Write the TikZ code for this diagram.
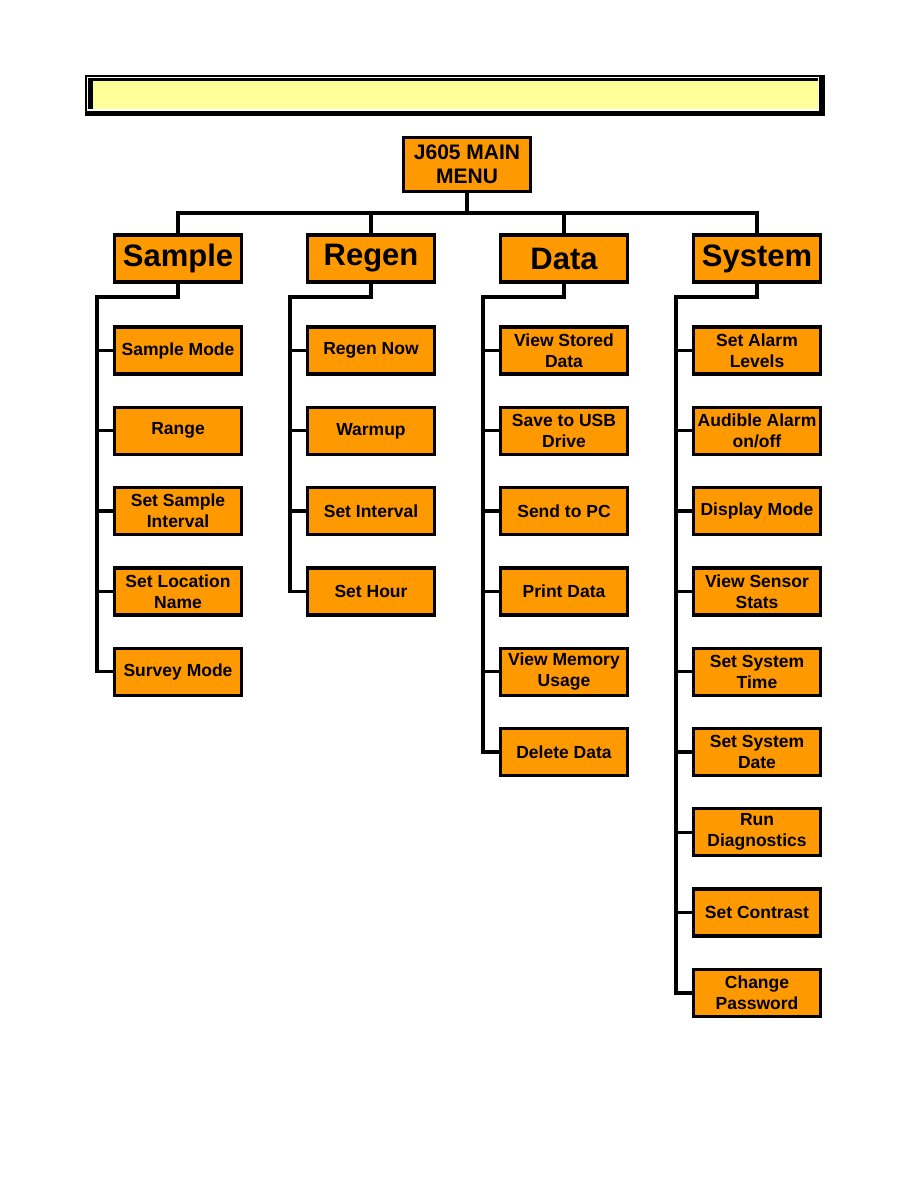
\documentclass[tikz,border=0pt]{standalone}
\usepackage{fontspec}
\setmainfont{Liberation Sans}
\usepackage{tikz}
\usetikzlibrary{positioning, backgrounds}
\definecolor{menuorange}{RGB}{255,153,0}
\definecolor{bannery}{RGB}{255,255,153}
\tikzset{
    menubox/.style={draw=black, fill=menuorange, rectangle, line width=3.3pt, minimum width=127pt, minimum height=47pt, inner sep=1pt, align=center, font=\fontsize{17.5}{21}\selectfont\bfseries},
    headbox/.style={menubox, font=\fontsize{31}{34}\selectfont\bfseries},
    mainbox/.style={menubox, minimum height=54pt, font=\fontsize{21}{23.5}\selectfont\bfseries},
    line/.style={draw=black, line width=3.3pt}
}
\begin{document}
\begin{tikzpicture}[x=1pt, y=-1pt]
        \useasboundingbox (0,0) rectangle (918,1188);

        % -----------------------------------------------------------------
        % BANNER
        % -----------------------------------------------------------------
        \fill[black] (85,75.5) rectangle (825,116);
        \draw[white, line width=1.5pt] (87.5,77.5) rectangle (818.3,110);
        \fill[bannery] (93,81) rectangle (817.5,109.3);

        % Menu principale
        \node (main) [mainbox] at (467,164.5) {J605 MAIN\\MENU};

        % Sottomenu
        \node (sample) [headbox] at (178,258.5) {Sample};
        \node (regen) [headbox] at (371,258.5) {Regen};
        \node (data) [headbox] at (564,258.5) {Data};
        \node (system) [headbox] at (757,258.5) {System};

        % Bus orizzontale
        \coordinate (top) at (467,213);
        \draw[line] (main.south) -- (top);
        \draw[line] (sample.north) |- (top) -| (system.north);
        \draw[line] (regen.north) -- (regen.north |- top);
        \draw[line] (data.north) -- (data.north |- top);

        % =================================================================
        % SAMPLE
        % =================================================================
        \node (s1) [menubox] at (178,350.5) {Sample Mode};
        \node (s2) [menubox] at (178,430.8) {Range};
        \node (s3) [menubox] at (178,511.1) {Set Sample\\Interval};
        \node (s4) [menubox] at (178,591.4) {Set Location\\Name};
        \node (s5) [menubox] at (178,671.7) {Survey Mode};

        \coordinate (bus_s) at (97,297);
        \draw[line] (sample.south) |- (bus_s) |- (s5.west);
        \draw[line] (bus_s |- s1.west) -- (s1.west);
        \draw[line] (bus_s |- s2.west) -- (s2.west);
        \draw[line] (bus_s |- s3.west) -- (s3.west);
        \draw[line] (bus_s |- s4.west) -- (s4.west);

        % =================================================================
        % REGEN
        % =================================================================
        \node (r1) [menubox] at (371,350.5) {Regen Now};
        \node (r2) [menubox] at (371,430.8) {Warmup};
        \node (r3) [menubox] at (371,511.1) {Set Interval};
        \node (r4) [menubox] at (371,591.4) {Set Hour};

        \coordinate (bus_r) at (290,297);
        \draw[line] (regen.south) |- (bus_r) |- (r4.west);
        \draw[line] (bus_r |- r1.west) -- (r1.west);
        \draw[line] (bus_r |- r2.west) -- (r2.west);
        \draw[line] (bus_r |- r3.west) -- (r3.west);

        % =================================================================
        % DATA
        % =================================================================
        \node (d1) [menubox] at (564,350.5) {View Stored\\Data};
        \node (d2) [menubox] at (564,430.8) {Save to USB\\Drive};
        \node (d3) [menubox] at (564,511.1) {Send to PC};
        \node (d4) [menubox] at (564,591.4) {Print Data};
        \node (d5) [menubox] at (564,671.7) {View Memory\\Usage};
        \node (d6) [menubox] at (564,752) {Delete Data};

        \coordinate (bus_d) at (483,297);
        \draw[line] (data.south) |- (bus_d) |- (d6.west);
        \draw[line] (bus_d |- d1.west) -- (d1.west);
        \draw[line] (bus_d |- d2.west) -- (d2.west);
        \draw[line] (bus_d |- d3.west) -- (d3.west);
        \draw[line] (bus_d |- d4.west) -- (d4.west);
        \draw[line] (bus_d |- d5.west) -- (d5.west);

        % =================================================================
        % SYSTEM
        % =================================================================
        \node (y1) [menubox] at (757,350.5) {Set Alarm\\Levels};
        \node (y2) [menubox] at (757,430.8) {Audible Alarm\\on/off};
        \node (y3) [menubox] at (757,511.1) {Display Mode};
        \node (y4) [menubox] at (757,591.4) {View Sensor\\Stats};
        \node (y5) [menubox] at (757,671.7) {Set System\\Time};
        \node (y6) [menubox] at (757,752) {Set System\\Date};
        \node (y7) [menubox] at (757,832.3) {Run\\Diagnostics};
        \node (y8) [menubox] at (757,912.6) {Set Contrast};
        \node (y9) [menubox] at (757,992.9) {Change\\Password};

        \coordinate (bus_y) at (676,297);
        \draw[line] (system.south) |- (bus_y) |- (y9.west);
        \draw[line] (bus_y |- y1.west) -- (y1.west);
        \draw[line] (bus_y |- y2.west) -- (y2.west);
        \draw[line] (bus_y |- y3.west) -- (y3.west);
        \draw[line] (bus_y |- y4.west) -- (y4.west);
        \draw[line] (bus_y |- y5.west) -- (y5.west);
        \draw[line] (bus_y |- y6.west) -- (y6.west);
        \draw[line] (bus_y |- y7.west) -- (y7.west);
        \draw[line] (bus_y |- y8.west) -- (y8.west);

    \end{tikzpicture}
\end{document}
